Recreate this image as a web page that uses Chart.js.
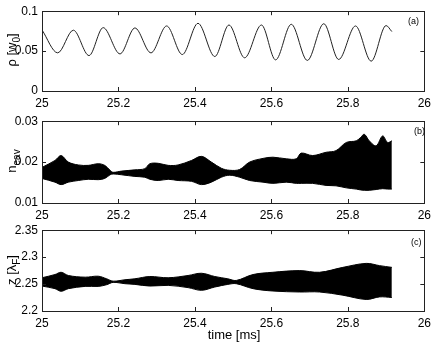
<!DOCTYPE html>
<html>
<head>
<meta charset="utf-8">
<script src="https://cdn.jsdelivr.net/npm/chart.js@4/dist/chart.umd.min.js"></script>
<style>
  body { margin: 0; width: 436px; height: 342px; background: #fff; position: relative; overflow: hidden;
         font-family: "Liberation Sans", Arial, sans-serif; color: #000; }
  .panel { position: absolute; left: 0; width: 436px; }
  .ytitle { position: absolute; font-size: 13px; white-space: nowrap;
            transform: translate(-50%, -50%) rotate(-90deg); }
  .ytitle sub { font-size: 10px; }
  .tag { position: absolute; font-size: 9px; }
  #xtitle { position: absolute; left: 234px; top: 334px; transform: translate(-50%, -50%); font-size: 13px; }
</style>
</head>
<body>
<div class="panel" style="top:0px;height:107px"><canvas id="rhoChart" width="436" height="107"></canvas></div>
<div class="panel" style="top:110px;height:109px"><canvas id="nChart" width="436" height="109"></canvas></div>
<div class="panel" style="top:219px;height:108px"><canvas id="zChart" width="436" height="108"></canvas></div>

<div class="ytitle" style="left:13px;top:50px">ρ [w<sub>0</sub>]</div>
<div class="ytitle" style="left:13px;top:161px">n<sub>eav</sub></div>
<div class="ytitle" style="left:13px;top:270px">z [λ<sub>F</sub>]</div>
<div class="tag" style="left:408px;top:16px">(a)</div>
<div class="tag" style="left:414px;top:126px">(b)</div>
<div class="tag" style="left:411px;top:237px">(c)</div>
<div id="xtitle">time [ms]</div>

<script>
// time axis ticks (ms)
var xTicks = [25, 25.2, 25.4, 25.6, 25.8, 26];

// (a) rho [w0] - turning points of the oscillation
var rhoT = [25.000, 25.041, 25.082, 25.123, 25.160, 25.204, 25.243, 25.285, 25.326, 25.367, 25.408,
            25.452, 25.489, 25.530, 25.574, 25.611, 25.652, 25.694, 25.737, 25.776, 25.820, 25.861,
            25.900, 25.915];
var rhoV = [0.0765, 0.0478, 0.0762, 0.0444, 0.0794, 0.0465, 0.0790, 0.0478, 0.0815, 0.0457, 0.0848,
            0.0432, 0.0827, 0.0416, 0.0827, 0.0390, 0.0836, 0.0383, 0.0843, 0.0395, 0.0815, 0.0374,
            0.0820, 0.0745];
var rhoTicks = [0, 0.05, 0.1];

// (b) n_eav - envelope of the fast oscillation
var nT = [25.000, 25.034, 25.050, 25.069, 25.095, 25.121, 25.147, 25.164, 25.178, 25.186, 25.208,
          25.243, 25.269, 25.282, 25.304, 25.330, 25.356, 25.391, 25.417, 25.443, 25.469, 25.491,
          25.517, 25.543, 25.578, 25.604, 25.639, 25.665, 25.678, 25.708, 25.743, 25.769, 25.796,
          25.822, 25.833, 25.843, 25.856, 25.874, 25.891, 25.904, 25.915];
var nUpper = [0.0187, 0.0204, 0.0216, 0.0200, 0.0193, 0.0192, 0.0196, 0.0192, 0.0180, 0.0175, 0.0178,
              0.0181, 0.0184, 0.0196, 0.0197, 0.0192, 0.0193, 0.0204, 0.0214, 0.0200, 0.0185, 0.0180,
              0.0182, 0.0200, 0.0209, 0.0212, 0.0208, 0.0208, 0.0222, 0.0216, 0.0224, 0.0228, 0.0248,
              0.0252, 0.0260, 0.0268, 0.0252, 0.0240, 0.0264, 0.0248, 0.0252];
var nLower = [0.0160, 0.0151, 0.0145, 0.0151, 0.0155, 0.0158, 0.0157, 0.0160, 0.0169, 0.0171, 0.0169,
              0.0165, 0.0163, 0.0158, 0.0155, 0.0158, 0.0155, 0.0153, 0.0145, 0.0151, 0.0163, 0.0168,
              0.0163, 0.0155, 0.0151, 0.0148, 0.0151, 0.0148, 0.0148, 0.0148, 0.0143, 0.0142, 0.0137,
              0.0134, 0.0132, 0.0131, 0.0131, 0.0133, 0.0135, 0.0134, 0.0134];
var nTicks = [0.01, 0.02, 0.03];

// (c) z [lambda_F] - envelope of the fast oscillation
var zT = [25.000, 25.034, 25.050, 25.069, 25.113, 25.147, 25.169, 25.186, 25.217, 25.243, 25.282,
          25.330, 25.382, 25.417, 25.452, 25.486, 25.508, 25.552, 25.604, 25.674, 25.726, 25.787,
          25.848, 25.883, 25.915];
var zUpper = [2.2617, 2.2677, 2.2719, 2.2659, 2.2628, 2.2646, 2.2598, 2.2554, 2.2580, 2.2598, 2.2640,
              2.2617, 2.2659, 2.2701, 2.2640, 2.2598, 2.2567, 2.2677, 2.2719, 2.2750, 2.2719, 2.2810,
              2.2884, 2.2842, 2.2810];
var zLower = [2.2463, 2.2415, 2.2366, 2.2415, 2.2457, 2.2457, 2.2488, 2.2531, 2.2507, 2.2494, 2.2463,
              2.2476, 2.2434, 2.2384, 2.2445, 2.2494, 2.2507, 2.2415, 2.2371, 2.2353, 2.2353, 2.2293,
              2.2214, 2.2262, 2.2251];
var zTicks = [2.2, 2.25, 2.3, 2.35];

Chart.defaults.font.family = '"Liberation Sans", Arial, sans-serif';
Chart.defaults.font.size = 12;
Chart.defaults.color = '#000';

function pts(t, v) {
    return t.map(function (x, i) { return { x: x, y: v[i] }; });
}

function fmt(v) {
    return String(Number(v.toFixed(3)));
}

// box around the plot with inward tick marks on all four sides
var boxTicks = {
    id: 'boxTicks',
    afterDraw: function (chart) {
        var ctx = chart.ctx, a = chart.chartArea, x = chart.scales.x, y = chart.scales.y;
        ctx.save();
        ctx.strokeStyle = '#222';
        ctx.lineWidth = 1;
        ctx.strokeRect(Math.round(a.left) + 0.5, Math.round(a.top) + 0.5,
                       Math.round(a.right - a.left), Math.round(a.bottom - a.top));
        ctx.beginPath();
        x.ticks.forEach(function (t) {
            var px = Math.round(x.getPixelForValue(t.value)) + 0.5;
            ctx.moveTo(px, a.bottom); ctx.lineTo(px, a.bottom - 4);
            ctx.moveTo(px, a.top); ctx.lineTo(px, a.top + 4);
        });
        y.ticks.forEach(function (t) {
            var py = Math.round(y.getPixelForValue(t.value)) + 0.5;
            ctx.moveTo(a.left, py); ctx.lineTo(a.left + 4, py);
            ctx.moveTo(a.right, py); ctx.lineTo(a.right - 4, py);
        });
        ctx.stroke();
        ctx.restore();
    }
};

function makeChart(id, datasets, yTicks) {
    var ctx = document.getElementById(id);
    return new Chart(ctx, {
        type: 'line',
        data: { datasets: datasets },
        options: {
            responsive: false,
            animation: false,
            devicePixelRatio: 1,
            layout: { padding: { top: 10, right: 11, left: 0, bottom: 0 } },
            plugins: { legend: { display: false }, tooltip: { enabled: false } },
            elements: { point: { radius: 0 } },
            scales: {
                x: {
                    type: 'linear', min: 25, max: 26,
                    grid: { display: false, drawTicks: false },
                    border: { display: false },
                    ticks: { padding: 5, maxRotation: 0, autoSkip: false, callback: fmt },
                    afterBuildTicks: function (s) { s.ticks = xTicks.map(function (v) { return { value: v }; }); },
                    afterFit: function (s) { s.height = 16; }
                },
                y: {
                    type: 'linear', min: yTicks[0], max: yTicks[yTicks.length - 1],
                    grid: { display: false, drawTicks: false },
                    border: { display: false },
                    ticks: { padding: 4, autoSkip: false, callback: fmt },
                    afterBuildTicks: function (s) { s.ticks = yTicks.map(function (v) { return { value: v }; }); },
                    afterFit: function (s) { s.width = 42; }
                }
            }
        },
        plugins: [boxTicks]
    });
}

function band(t, upper, lower) {
    return [{
        data: pts(t, upper),
        borderColor: '#000', borderWidth: 1,
        backgroundColor: '#000',
        tension: 0.35,
        fill: '+1'
    }, {
        data: pts(t, lower),
        borderColor: '#000', borderWidth: 1,
        tension: 0.35,
        fill: false
    }];
}

window.onload = function () {
    makeChart('rhoChart', [{
        data: pts(rhoT, rhoV),
        borderColor: '#222',
        borderWidth: 1,
        cubicInterpolationMode: 'monotone',
        fill: false
    }], rhoTicks);

    makeChart('nChart', band(nT, nUpper, nLower), nTicks);
    makeChart('zChart', band(zT, zUpper, zLower), zTicks);
};
</script>
</body>
</html>
